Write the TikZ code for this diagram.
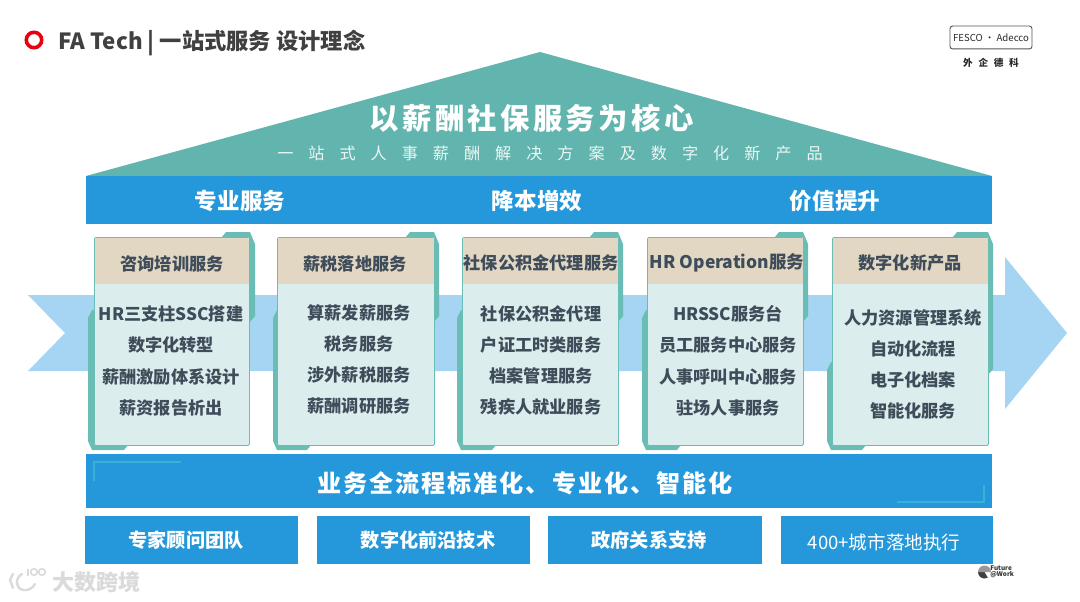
\documentclass[tikz,border=0pt]{standalone}
\usepackage{fontspec}
\usetikzlibrary{calc}
\setmainfont{Noto Sans CJK SC}
\newfontfamily\rgf{Noto Sans CJK SC}
\newcommand{\bdf}{\rgf\bfseries}
\newfontfamily\hbase[LetterSpace=11.5]{Noto Sans CJK SC}
\newfontfamily\mbase[LetterSpace=8]{Noto Sans CJK SC}
\newcommand{\hbf}{\hbase\bfseries}
\newcommand{\mbf}{\mbase\bfseries}
\newfontfamily\sbf[LetterSpace=93]{Noto Sans CJK SC}
\newfontfamily\lbase[LetterSpace=60]{Noto Sans CJK SC}
\newcommand{\lbf}{\lbase\bfseries}
\definecolor{roof}{HTML}{62B5AE}
\definecolor{bandblue}{HTML}{2498DA}
\definecolor{arrowblue}{HTML}{A5D5F2}
\definecolor{tealback}{HTML}{6ABDB4}
\definecolor{cardbg}{HTML}{DCEDED}
\definecolor{headbg}{HTML}{E2D7C3}
\definecolor{cardtxt}{HTML}{3F4C5A}
\definecolor{decor}{HTML}{45B8D4}
\definecolor{ringred}{HTML}{E60012}
\definecolor{titletxt}{HTML}{404040}
\definecolor{logotxt}{HTML}{282828}
\definecolor{logoline}{HTML}{555555}
\definecolor{subtxt}{HTML}{EBF6F4}
\definecolor{wmgrey}{HTML}{DADADA}
\newcommand{\fs}[1]{\fontsize{#1}{#1}\selectfont}
\tikzset{
  cardtext/.style={text=cardtxt,font=\bdf\fs{12.9},inner sep=0pt,anchor=center},
  whitetext/.style={text=white,inner sep=0pt,anchor=center},
  bluebox/.style={fill=bandblue,draw=none},
  decorline/.style={draw=decor,line width=1.5pt,opacity=.75},
  wmstroke/.style={draw=wmgrey,line width=1.8pt,line cap=round},
}
% #1 left teal x, #2 card left, #3 card right, #4 teal right, #5 tab left, #6 right side lower y, #7 left side upper y, #8 name
\newcommand{\cardshape}[8]{
  \fill[tealback] (#5,237) -- (#5+4,232) -- (#4-5,232) -- (#4,244) -- (#4,#6-6) -- (#4-5,#6) -- (#3,#6) -- (#3,237) -- cycle;
  \fill[tealback] (#2,#7) -- (#1+4,#7) -- (#1,#7+8) -- (#1,441) -- (#1+4,450) -- (#2+30,450) -- (#2+34,445) -- (#2,445) -- cycle;
  \node[fill=cardbg,draw=tealback,line width=.6pt,rounded corners=1pt,minimum width=#3*.75pt-#2*.75pt,minimum height=156pt,inner sep=0pt,anchor=north west] (#8) at (#2,237) {};
  \fill[headbg] (#2+.5,237.5) rectangle (#3-.5,284);
}
\begin{document}
\begin{tikzpicture}[x=0.75pt,y=-0.75pt]
\useasboundingbox (0,0) rectangle (1080,602);
\fill[white] (0,0) rectangle (1080,602);
% arrow
\fill[arrowblue] (28,295) -- (1005,295) -- (1005,257) -- (1067,333) -- (1005,409) -- (1005,371) -- (28,371) -- (65,333) -- cycle;
% title
\draw[draw=ringred,line width=2.7pt] (34,40) circle (7.7);
\node[anchor=west,inner sep=0pt,text=titletxt,font=\bdf\fs{16.7}] (title) at (58,43) {FA Tech | 一站式服务 设计理念};
% logo
\node[draw=logoline,line width=.7pt,rounded corners=2pt,minimum width=61.5pt,minimum height=17.2pt,inner sep=0pt,font=\rgf\fs{7.2},text=logotxt] (fesco) at (991,37.5) {FESCO · Adecco};
\node[inner sep=0pt,font=\lbf\fs{7.2},text=logotxt] (wq) at (991,63) {外企德科};
% roof
\fill[roof] (86,176) -- (540,52) -- (992,176) -- cycle;
\node[whitetext,font=\hbf\fs{22}] (t1) at (531.5,118) {以薪酬社保服务为核心};
\node[text=subtxt,inner sep=0pt,font=\sbf\fs{12.1}] (t2) at (550,153) {一站式人事薪酬解决方案及数字化新产品};
% top band
\fill[bluebox] (86,176) rectangle (992,224);
\node[whitetext,font=\bdf\fs{16.9}] (a1) at (240,201) {专业服务};
\node[whitetext,font=\bdf\fs{16.9}] (a2) at (537,201) {降本增效};
\node[whitetext,font=\bdf\fs{16.9}] (a3) at (835,201) {价值提升};
% cards
\cardshape{88}{94}{249}{255}{222}{322}{310}{c1}
\cardshape{273}{277}{434}{439}{406}{322}{310}{c2}
\cardshape{457}{462}{618}{623}{590}{322}{310}{c3}
\cardshape{642}{647}{803}{808}{775}{322}{310}{c4}
\cardshape{827}{832}{988}{993}{953}{375}{362}{c5}
\node[cardtext] (h1) at (172,264) {咨询培训服务};
\node[cardtext] (h2) at (355,264) {薪税落地服务};
\node[cardtext] (h3) at (541,263) {社保公积金代理服务};
\node[cardtext,font=\bdf\fs{13.1}] (h4) at (727,263) {HR Operation服务};
\node[cardtext] (h5) at (910,263) {数字化新产品};
\node[cardtext,font=\bdf\fs{12.9}] (i11) at (171,314) {HR三支柱SSC搭建};
\node[cardtext] (i12) at (171,345) {数字化转型};
\node[cardtext] (i13) at (171,377) {薪酬激励体系设计};
\node[cardtext] (i14) at (171,408) {薪资报告析出};
\node[cardtext] (i21) at (359,313) {算薪发薪服务};
\node[cardtext] (i22) at (359,344) {税务服务};
\node[cardtext] (i23) at (359,375) {涉外薪税服务};
\node[cardtext] (i24) at (359,406) {薪酬调研服务};
\node[cardtext] (i31) at (541,314) {社保公积金代理};
\node[cardtext] (i32) at (541,345) {户证工时类服务};
\node[cardtext] (i33) at (541,376) {档案管理服务};
\node[cardtext] (i34) at (541,407) {残疾人就业服务};
\node[cardtext] (i41) at (728,314) {HRSSC服务台};
\node[cardtext] (i42) at (728,345) {员工服务中心服务};
\node[cardtext] (i43) at (728,377) {人事呼叫中心服务};
\node[cardtext] (i44) at (728,408) {驻场人事服务};
\node[cardtext] (i51) at (913,318) {人力资源管理系统};
\node[cardtext] (i52) at (913,349) {自动化流程};
\node[cardtext] (i53) at (913,380) {电子化档案};
\node[cardtext] (i54) at (913,411) {智能化服务};
% bottom band
\fill[bluebox] (86,454) rectangle (992,508);
\draw[decorline] (94,481) -- (94,462) -- (181,462);
\draw[decorline] (897,502) -- (984,502) -- (984,485);
\node[whitetext,font=\mbf\fs{18.1}] (b) at (525,483) {业务全流程标准化、专业化、智能化};
\fill[bluebox] (85,516) rectangle (298,564);
\fill[bluebox] (317,516) rectangle (530,564);
\fill[bluebox] (548,516) rectangle (762,564);
\fill[bluebox] (781,516) rectangle (993,564);
\node[whitetext,font=\bdf\fs{14.4}] (s1) at (186,540) {专家顾问团队};
\node[whitetext,font=\bdf\fs{14.4}] (s2) at (428,540) {数字化前沿技术};
\node[whitetext,font=\bdf\fs{14.4}] (s3) at (649,540) {政府关系支持};
\node[whitetext,font=\rgf\fs{13.9}] (s4) at (884,542) {400+城市落地执行};
% watermark
\node[anchor=west,inner sep=0pt,text=wmgrey,font=\bdf\fs{16.5}] (wm) at (52,582) {大数跨境};
\draw[wmstroke] (13,574) -- (10,580) -- (13,588);
\draw[wmstroke] (22,574) .. controls (15,578) and (15,588) .. (23,590) .. controls (28,591) and (33,588) .. (35,584);
\draw[draw=wmgrey,line width=1.2pt] (34,572) circle (3.3) (42,572) circle (3.3);
\draw[draw=wmgrey,line width=1.2pt] (28,569) -- (28,576);
% future work
\fill[black!75] (984.5,572) -- (978,572) arc (180:60:6.5) -- cycle;
\fill[black!40] (984.5,572) -- (991,572) arc (0:-180:6.5) -- cycle;
\node[anchor=west,inner sep=0pt,align=left,font=\bdf\fs{4.8},text=black!80] (fw) at (990,572) {Future\\@Work};
\end{tikzpicture}
\end{document}
